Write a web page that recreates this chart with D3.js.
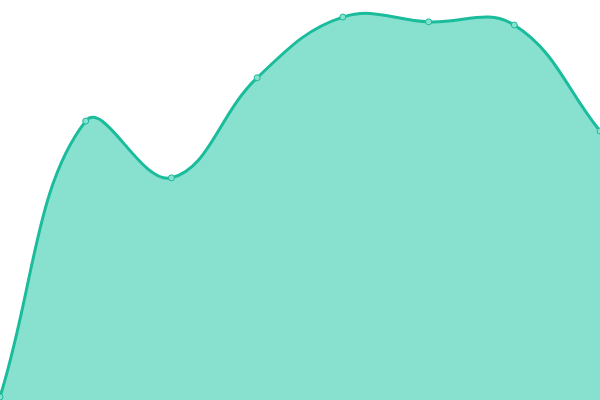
<!DOCTYPE html>
<html>
<head>
<meta charset="utf-8">
<script src="https://cdn.jsdelivr.net/npm/d3@7"></script>
<style>
  html, body { margin: 0; padding: 0; background: #fff; }
  svg { display: block; }
</style>
</head>
<body>
<svg></svg>
<script>
// one series, eight points, no axes
var labels = ["P1", "P2", "P3", "P4", "P5", "P6", "P7", "P8"];
var values = [0, 69.5, 55.2, 80.4, 95.7, 94.5, 93.7, 67.0];

var width = 600;
var height = 400;
var tension = 0.4;

var svg = d3.select("svg").attr("width", width).attr("height", height);

var x = d3.scalePoint().domain(labels).range([0, width]);
var y = d3.scaleLinear().domain([0, 100]).range([397, 0]);

var pts = labels.map(function (l, i) {
    return { x: x(l), y: y(values[i]) };
});

// distance weighted spline control points
function controls(prev, cur, next) {
    var d01 = Math.hypot(cur.x - prev.x, cur.y - prev.y);
    var d12 = Math.hypot(next.x - cur.x, next.y - cur.y);
    var s01 = d01 / (d01 + d12) || 0;
    var s12 = d12 / (d01 + d12) || 0;
    var fa = tension * s01, fb = tension * s12;
    return {
        prev: { x: cur.x - fa * (next.x - prev.x), y: cur.y - fa * (next.y - prev.y) },
        next: { x: cur.x + fb * (next.x - prev.x), y: cur.y + fb * (next.y - prev.y) }
    };
}

var cps = pts.map(function (p, i) {
    var c = controls(pts[Math.max(i - 1, 0)], p, pts[Math.min(i + 1, pts.length - 1)]);
    [c.prev, c.next].forEach(function (q) {
        q.x = Math.max(0, Math.min(width, q.x));
        q.y = Math.max(0, Math.min(height, q.y));
    });
    return c;
});

function trace(ctx) {
    ctx.moveTo(pts[0].x, pts[0].y);
    for (var i = 1; i < pts.length; i++) {
        ctx.bezierCurveTo(cps[i - 1].next.x, cps[i - 1].next.y,
            cps[i].prev.x, cps[i].prev.y, pts[i].x, pts[i].y);
    }
}

var areaPath = d3.path();
trace(areaPath);
areaPath.lineTo(pts[pts.length - 1].x, height);
areaPath.lineTo(pts[0].x, height);
areaPath.closePath();

var linePath = d3.path();
trace(linePath);

svg.append("path")
    .attr("d", areaPath.toString())
    .attr("fill", "#88e0cf");

svg.append("path")
    .attr("d", linePath.toString())
    .attr("fill", "none")
    .attr("stroke", "#1abc9c")
    .attr("stroke-width", 3);

svg.selectAll(".dot")
    .data(pts)
    .enter()
    .append("circle")
    .attr("class", "dot")
    .attr("cx", function (d) { return d.x; })
    .attr("cy", function (d) { return d.y; })
    .attr("r", 3)
    .attr("fill", "#88e0cf")
    .attr("stroke", "#1abc9c")
    .attr("stroke-width", 1);
</script>
</body>
</html>
